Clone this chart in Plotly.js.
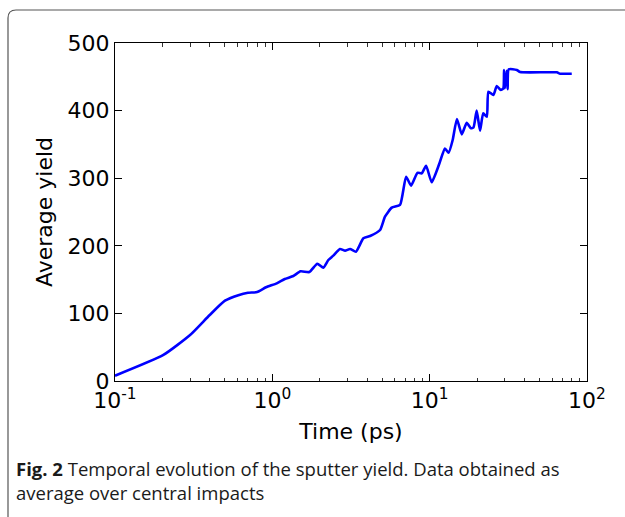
<!DOCTYPE html>
<html>
<head>
<meta charset="utf-8">
<script src="https://cdn.plot.ly/plotly-3.0.1.min.js"></script>
<style>html,body{margin:0;padding:0;background:#fff;}#chart{width:625px;height:517px;}</style>
</head>
<body>
<div id="chart"></div>
<script>
// Time (ps)
const timePs = [0.1, 0.203, 0.3, 0.40, 0.5, 0.608, 0.70, 0.80, 0.912, 1.067, 1.2, 1.36, 1.51, 1.72, 1.93, 2.11, 2.27, 2.44, 2.69, 2.90, 3.12, 3.40, 3.79, 4.18,
  4.84, 5.20, 5.74, 6.48, 7.08, 7.62, 8.36, 8.91, 9.49, 10.3, 11.5, 12.5, 13.2, 14.0, 14.9, 16.0, 17.2, 18.3, 19.0, 19.9, 20.9, 21.9, 23.1, 23.6, 25.4, 26.7, 28.3, 29.4, 29.7, 30.1, 30.9, 31.3, 31.8, 35.8, 37.6, 64.3, 67.5, 80.0];
// Average yield
const avgYield = [7.8, 38.5, 68, 97.6, 118.8, 127, 130.6, 131.6, 138.6, 144.5, 150.9, 155.3, 162.2, 161.2, 173.5, 167.6, 179, 185.4, 195.3, 192.8, 195.3, 191.3, 211, 214.5,
  223.4, 243, 256.4, 260.4, 302.2, 289, 308, 307.2, 318.5, 294, 321, 344, 337.7, 356.5, 387.6, 364.9, 382, 373.8, 375.2, 399.9, 370.3, 396, 391, 428, 423, 436.4, 430.5, 433, 460, 433, 459, 431.5, 461, 460, 457, 456.6, 454.6, 454.6];

const xTickVals = [0.1, 1, 10, 100];
const xTickText = ['10<sup>-1</sup>', '10<sup>0</sup>', '10<sup>1</sup>', '10<sup>2</sup>'];
const xMinorTickVals = [0.2, 0.3, 0.4, 0.5, 0.6, 0.7, 0.8, 0.9, 2, 3, 4, 5, 6, 7, 8, 9, 20, 30, 40, 50, 60, 70, 80, 90];
const yTickVals = [0, 100, 200, 300, 400, 500];

const caption = '<b>Fig. 2</b> Temporal evolution of the sputter yield. Data obtained as<br>average over central impacts';

// layout geometry helpers (pixels -> paper)
const L = 115, T = 43, W = 472, H = 338;
const px = x => (x - L) / W;
const py = y => (T + H - y) / H;

const x0 = px(8), yTop = py(10), xR = px(640), yB = py(530);
const dx = 8 / W, dy = 8 / H;
const framePath = `M ${x0},${yB} L ${x0},${yTop - dy} Q ${x0},${yTop} ${x0 + dx},${yTop} L ${xR},${yTop}`;

const axisFont = {family: 'DejaVu Sans', size: 22, color: '#000'};

const data = [{
  x: timePs, y: avgYield, type: 'scatter', mode: 'lines',
  line: {color: '#0000ff', width: 2.6, shape: 'spline', smoothing: 0.5}, hoverinfo: 'skip'
}];

const layout = {
  width: 625, height: 517,
  margin: {l: L, r: 625 - L - W, t: T, b: 517 - T - H},
  paper_bgcolor: '#fff', plot_bgcolor: '#fff',
  showlegend: false,
  font: axisFont,
  xaxis: {
    type: 'log', range: [-1, 2],
    tickvals: xTickVals, ticktext: xTickText,
    ticks: 'inside', ticklen: 7, tickwidth: 1, tickcolor: '#000',
    minor: {tickmode: 'array', tickvals: xMinorTickVals, ticks: 'inside', ticklen: 3.5, tickwidth: 0.8, tickcolor: '#000', showgrid: false},
    showline: true, linecolor: '#000', linewidth: 1, mirror: 'allticks',
    showgrid: false, zeroline: false,
    tickfont: axisFont,
    title: {text: 'Time (ps)', font: axisFont, standoff: 11}
  },
  yaxis: {
    range: [0, 500], tickvals: yTickVals,
    ticks: 'inside', ticklen: 7, tickwidth: 1, tickcolor: '#000',
    showline: true, linecolor: '#000', linewidth: 1, mirror: 'allticks',
    showgrid: false, zeroline: false,
    tickfont: axisFont,
    title: {text: 'Average yield', font: axisFont, standoff: 8}
  },
  shapes: [{
    type: 'path', xref: 'paper', yref: 'paper', path: framePath,
    line: {color: '#555', width: 1.2}
  }],
  annotations: [{
    xref: 'paper', yref: 'paper', x: px(14), y: py(454),
    xanchor: 'left', yanchor: 'top', align: 'left', showarrow: false,
    text: caption,
    font: {family: 'Open Sans', size: 18.5, color: '#1a1a1a'}
  }]
};

Plotly.newPlot('chart', data, layout, {displayModeBar: false, staticPlot: true});
</script>
</body>
</html>
